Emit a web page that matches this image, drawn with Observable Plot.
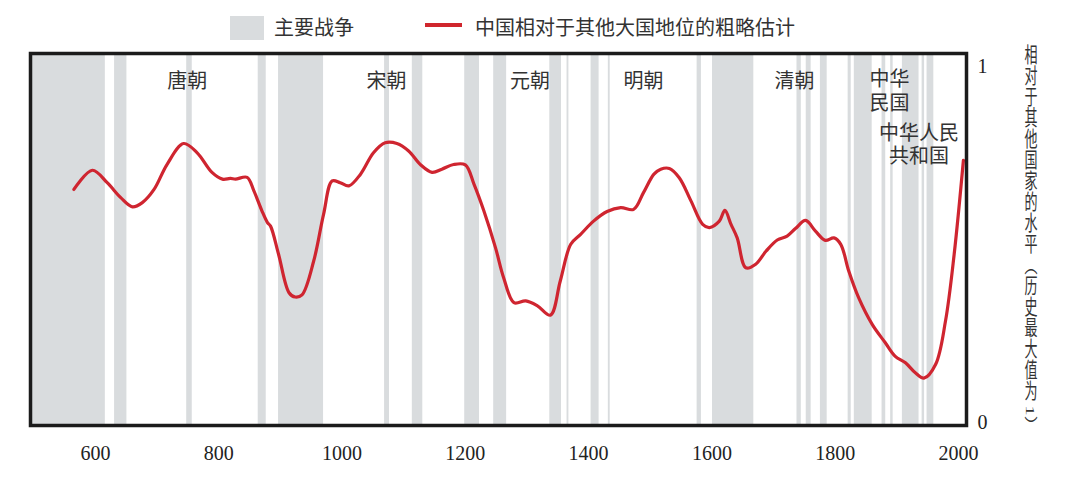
<!DOCTYPE html>
<html><head><meta charset="utf-8">
<script src="https://cdn.jsdelivr.net/npm/d3@7"></script>
<script src="https://cdn.jsdelivr.net/npm/@observablehq/plot@0.6"></script>
<style>
body{margin:0;background:#fff;font-family:"Liberation Serif","Noto Sans CJK SC",serif;color:#333;}
#wrap{position:relative;width:1080px;height:493px;overflow:hidden;}
#legend{position:relative;height:46px;}
#legend .sw{position:absolute;left:230px;top:16px;width:34px;height:24px;background:#d9dcde;}
#legend .ln{position:absolute;left:425px;top:23px;width:37px;height:3.5px;background:#d0262d;}
#legend .t{position:absolute;top:14px;font-size:20px;line-height:28px;color:#333;white-space:nowrap;}
#chart svg{display:block;}
</style></head><body>
<div id="wrap"><div id="legend"></div><div id="chart"></div></div>
<script>
// ---- data ----
const legendLabels = ["主要战争", "中国相对于其他大国地位的粗略估计"];
const yAxisLabel = "相对于其他国家的水平（历史最大值为 1）";
const xTicks = [600, 800, 1000, 1200, 1400, 1600, 1800, 2000];
const yTicks = [0, 1];

const warStart = [494, 631, 748, 864, 897, 1069, 1114, 1199, 1246, 1337, 1365, 1404, 1432, 1576, 1601, 1738, 1753, 1776, 1821, 1831, 1876, 1890, 1909, 1941, 1949];
const warEnd   = [616, 651, 757, 877, 970, 1077, 1131, 1223, 1267, 1356, 1368, 1417, 1435, 1583, 1668, 1745, 1761, 1787, 1826, 1860, 1882, 1894, 1936, 1945, 1960];

const years = [565, 595, 619, 641, 660, 676, 695, 716, 743, 765, 789, 806, 819, 827, 846, 857, 870, 879, 884, 897, 914, 924, 935, 954, 970, 984, 997, 1011, 1030, 1051, 1070, 1089, 1108, 1127, 1146, 1162, 1181, 1200, 1214, 1230, 1249, 1262, 1279, 1298, 1317, 1338, 1354, 1371, 1387, 1408, 1430, 1452, 1473, 1489, 1506, 1517, 1531, 1547, 1566, 1585, 1596, 1612, 1621, 1631, 1641, 1655, 1671, 1688, 1706, 1722, 1736, 1752, 1768, 1784, 1798, 1809, 1822, 1838, 1860, 1881, 1897, 1914, 1930, 1944, 1963, 1979, 1993, 2008];
const values = [0.656, 0.710, 0.675, 0.633, 0.607, 0.619, 0.656, 0.726, 0.785, 0.759, 0.704, 0.685, 0.687, 0.685, 0.690, 0.652, 0.596, 0.563, 0.553, 0.474, 0.366, 0.354, 0.360, 0.455, 0.586, 0.680, 0.675, 0.666, 0.699, 0.759, 0.787, 0.785, 0.764, 0.726, 0.704, 0.713, 0.726, 0.725, 0.671, 0.596, 0.492, 0.409, 0.338, 0.343, 0.329, 0.303, 0.399, 0.502, 0.530, 0.567, 0.594, 0.605, 0.600, 0.647, 0.699, 0.713, 0.715, 0.689, 0.624, 0.558, 0.549, 0.567, 0.597, 0.558, 0.520, 0.436, 0.446, 0.483, 0.514, 0.525, 0.547, 0.569, 0.539, 0.513, 0.520, 0.502, 0.427, 0.352, 0.277, 0.226, 0.188, 0.169, 0.141, 0.126, 0.165, 0.287, 0.474, 0.738];

const dynNames = ["唐朝", "宋朝", "元朝", "明朝", "清朝", "中华\n民国", "中华人民\n共和国"];
const dynYears = [749, 1072, 1305, 1489, 1734, 1888, 1936];
const dynLevel = [0.962, 0.962, 0.962, 0.962, 0.962, 0.934, 0.784];

// ---- build tables ----
const wars = warStart.map((s, i) => ({start: s, end: warEnd[i]}));
const series = years.map((y, i) => ({year: y, value: values[i]}));
const dyn = dynNames.map((n, i) => ({name: n, year: dynYears[i], level: dynLevel[i]}));

// legend
const lg = document.getElementById("legend");
lg.innerHTML = `<div class="sw"></div><div class="t" style="left:274px">${legendLabels[0]}</div>
<div class="ln"></div><div class="t" style="left:475px">${legendLabels[1]}</div>`;

const font = `"Liberation Serif","Noto Sans CJK SC",serif`;
const chart = Plot.plot({
  width: 1080, height: 447,
  marginLeft: 30, marginRight: 114, marginTop: 7, marginBottom: 68,
  style: {fontFamily: font, fontSize: "20px", color: "#222", background: "white", overflow: "visible"},
  x: {domain: [494.6, 2013], label: null},
  y: {domain: [-0.007, 1.0379], label: null},
  marks: [
    Plot.rect(wars, {x1: "start", x2: "end", fill: "#d9dcde", clip: true}),
    Plot.line(series, {x: "year", y: "value", stroke: "#cf2530", strokeWidth: 3.2, curve: "catmull-rom"}),
    Plot.text(dyn.slice(0, 6), {x: "year", y: "level", text: "name", fill: "#333", fontSize: 20, lineHeight: 1.17}),
    Plot.text(dyn.slice(6), {x: "year", y: "level", text: "name", fill: "#333", fontSize: 20, lineHeight: 1.165}),
    Plot.frame({stroke: "#1b1b1b", strokeWidth: 3.5}),
    Plot.axisX({ticks: xTicks, tickSize: 0, tickPadding: 20, tickFormat: d => String(d), fontSize: 20, fill: "#222"}),
    Plot.axisY({anchor: "right", ticks: yTicks, tickSize: 0, tickPadding: 11, tickFormat: d => String(d), fontSize: 20, fill: "#222"})
  ]
});
document.getElementById("chart").appendChild(chart);

// vertical right-side label (upright CJK)
d3.select(chart).append("text")
  .attr("transform", "translate(1030,194) scale(0.62,1)")
  .attr("writing-mode", "vertical-rl")
  .attr("text-anchor", "middle")
  .attr("font-size", 21)
  .attr("fill", "#333")
  .attr("font-family", font)
  .text(yAxisLabel);
</script>
</body></html>
